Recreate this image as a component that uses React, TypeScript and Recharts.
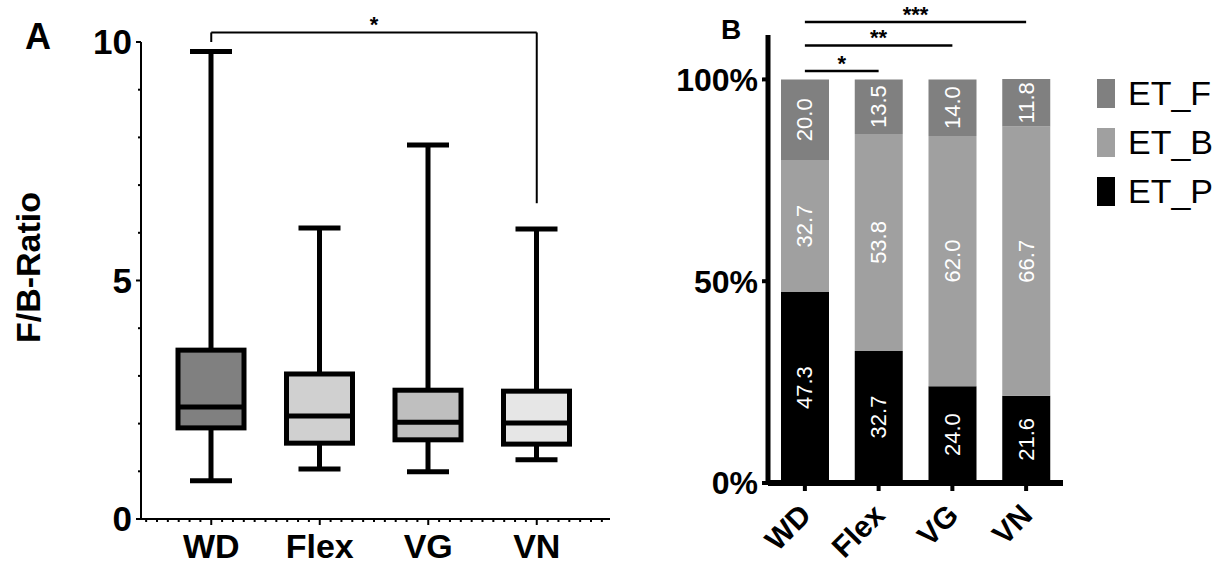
import React from 'react';
import {
  ComposedChart,
  BarChart,
  Bar,
  XAxis,
  YAxis,
  ReferenceLine,
  LabelList,
  Legend,
  Label,
} from 'recharts';

const groups = ['WD', 'Flex', 'VG', 'VN'];

// panel A: F/B ratio, box plot per group
const fbMin = [0.8, 1.05, 0.99, 1.24];
const fbQ1 = [1.91, 1.59, 1.66, 1.57];
const fbMedian = [2.35, 2.16, 2.03, 2.01];
const fbQ3 = [3.54, 3.04, 2.7, 2.68];
const fbMax = [9.8, 6.1, 7.84, 6.08];
const fbTicks = [0, 1, 2, 3, 4, 5, 6, 7, 8, 9, 10];
const fbMajor = [0, 5, 10];

// panel B: enterotype shares (%)
const etP = [47.3, 32.7, 24.0, 21.6];
const etB = [32.7, 53.8, 62.0, 66.7];
const etF = [20.0, 13.5, 14.0, 11.8];
const pctTicks = [0, 50, 100];
const legendOrder = ['ET_F', 'ET_B', 'ET_P'];

const boxFills = ['#808080', '#d0d0d0', '#bfbfbf', '#e6e6e6'];
const etColors = { ET_P: '#000000', ET_B: '#a0a0a0', ET_F: '#808080' };

const boxData = groups.map((g, i) => ({
  group: g,
  min: fbMin[i],
  q1: fbQ1[i],
  median: fbMedian[i],
  q3: fbQ3[i],
  max: fbMax[i],
  fill: boxFills[i],
}));

const etData = groups.map((g, i) => ({
  group: g,
  ET_P: etP[i],
  ET_B: etB[i],
  ET_F: etF[i],
}));

const MINOR_STEP = 10.85;

const BoxShape = (props: any) => {
  const { x, y, width, height, payload } = props;
  if (!payload) return null;
  const top = Math.min(y, y + height);
  const bottom = Math.max(y, y + height);
  const span = payload.max - payload.min;
  const py = (v: number) => bottom - ((v - payload.min) / span) * (bottom - top);
  const cx = x + width / 2;
  const cap = 42;
  return (
    <g stroke="#000" strokeWidth={5}>
      <line x1={cx} x2={cx} y1={py(payload.max)} y2={py(payload.q3)} />
      <line x1={cx} x2={cx} y1={py(payload.q1)} y2={py(payload.min)} />
      <line x1={cx - cap / 2} x2={cx + cap / 2} y1={py(payload.max)} y2={py(payload.max)} />
      <line x1={cx - cap / 2} x2={cx + cap / 2} y1={py(payload.min)} y2={py(payload.min)} />
      <rect
        x={x}
        y={py(payload.q3)}
        width={width}
        height={py(payload.q1) - py(payload.q3)}
        fill={payload.fill}
      />
      <line x1={x} x2={x + width} y1={py(payload.median)} y2={py(payload.median)} />
    </g>
  );
};

const BoxXTick = (props: any) => {
  const { x, y, payload, index } = props;
  let ks = [-5, -4, -3, -2, -1, 1, 2, 3, 4];
  if (index === 0) ks = [-6, ...ks];
  if (index === groups.length - 1) ks = [...ks, 5, 6];
  return (
    <g>
      <line x1={x} x2={x} y1={y} y2={y + 6} stroke="#000" strokeWidth={2} />
      {ks.map((k) => (
        <line
          key={k}
          x1={x + k * MINOR_STEP}
          x2={x + k * MINOR_STEP}
          y1={y}
          y2={y + 3}
          stroke="#000"
          strokeWidth={2}
        />
      ))}
      <text x={x} y={y + 39} textAnchor="middle" fontSize={34} fontWeight="bold" fill="#000">
        {payload.value}
      </text>
    </g>
  );
};

const BoxYTick = (props: any) => {
  const { x, y, payload } = props;
  const major = fbMajor.includes(payload.value);
  return (
    <g>
      <line x1={x - (major ? 5 : 3)} x2={x} y1={y} y2={y} stroke="#000" strokeWidth={2} />
      {major && (
        <text x={x - 9} y={y} dy="0.35em" textAnchor="end" fontSize={35} fontWeight="bold" fill="#000">
          {payload.value}
        </text>
      )}
    </g>
  );
};

const YTitle = (props: any) => {
  const vb = props.viewBox || { x: 81, y: 42, width: 60, height: 477 };
  const tx = vb.x - 41;
  const ty = vb.y + vb.height / 2 - 13;
  return (
    <text
      x={tx}
      y={ty}
      transform={`rotate(-90 ${tx} ${ty})`}
      textAnchor="middle"
      fontSize={34}
      fontWeight="bold"
      fill="#000"
    >
      F/B-Ratio
    </text>
  );
};

const EtXTick = (props: any) => {
  const { x, y, payload } = props;
  const tx = x + 8;
  const ty = y + 24;
  return (
    <text
      x={tx}
      y={ty}
      transform={`rotate(-45 ${tx} ${ty})`}
      textAnchor="end"
      fontSize={30}
      fontWeight="bold"
      fill="#000"
    >
      {payload.value}
    </text>
  );
};

const SegLabel = (props: any) => {
  const { x, y, width, height, value } = props;
  const cx = x + width / 2;
  const cy = y + height / 2;
  return (
    <text
      x={cx}
      y={cy}
      transform={`rotate(-90 ${cx} ${cy})`}
      textAnchor="middle"
      dominantBaseline="central"
      fill="#fff"
      fontSize={22}
    >
      {Number(value).toFixed(1)}
    </text>
  );
};

const EtLegend = (props: any) => {
  const items = [...(props.payload || [])].sort(
    (a: any, b: any) => legendOrder.indexOf(a.value) - legendOrder.indexOf(b.value)
  );
  return (
    <div style={{ width: 140 }}>
      {items.map((item: any) => (
        <div key={item.value} style={{ display: 'flex', alignItems: 'center', height: 49 }}>
          <div style={{ width: 18, height: 29, background: item.color, marginRight: 13 }} />
          <span style={{ fontSize: 34, lineHeight: '29px', color: '#000' }}>{item.value}</span>
        </div>
      ))}
    </div>
  );
};

export default function App() {
  return (
    <div
      style={{
        position: 'absolute',
        left: 0,
        top: 0,
        width: 1217,
        height: 565,
        background: '#fff',
        fontFamily: "'Liberation Sans', Arial, sans-serif",
        overflow: 'hidden',
      }}
    >
      <div style={{ position: 'absolute', left: 0, top: 0 }}>
        <ComposedChart
          width={620}
          height={565}
          data={boxData}
          margin={{ top: 42, right: 10, bottom: 0, left: 81 }}
        >
          <XAxis
            dataKey="group"
            padding={{ left: 16, right: 19 }}
            height={46}
            tickSize={0}
            tickMargin={0}
            tickLine={false}
            interval={0}
            axisLine={{ stroke: '#000', strokeWidth: 2 }}
            tick={(p: any) => <BoxXTick {...p} />}
          />
          <YAxis
            domain={[0, 10]}
            ticks={fbTicks}
            width={60}
            tickSize={0}
            tickMargin={0}
            tickLine={false}
            interval={0}
            axisLine={{ stroke: '#000', strokeWidth: 2 }}
            tick={(p: any) => <BoxYTick {...p} />}
          >
            <Label content={(p: any) => <YTitle {...p} />} />
          </YAxis>
          <Bar
            dataKey={(d: any) => [d.min, d.max]}
            barSize={66}
            isAnimationActive={false}
            shape={(p: any) => <BoxShape {...p} />}
          />
          <ReferenceLine
            segment={[{ x: 'WD', y: 10.2 }, { x: 'VN', y: 10.2 }]}
            stroke="#000"
            strokeWidth={2}
            ifOverflow="visible"
            label={{ value: '*', position: 'top', offset: 0, fontSize: 22, fontWeight: 'bold', fill: '#000' }}
          />
          <ReferenceLine
            segment={[{ x: 'WD', y: 10.2 }, { x: 'WD', y: 10.0 }]}
            stroke="#000"
            strokeWidth={2}
            ifOverflow="visible"
          />
          <ReferenceLine
            segment={[{ x: 'VN', y: 10.2 }, { x: 'VN', y: 6.62 }]}
            stroke="#000"
            strokeWidth={2}
            ifOverflow="visible"
          />
        </ComposedChart>
      </div>

      <div style={{ position: 'absolute', left: 620, top: 0 }}>
        <BarChart
          width={597}
          height={565}
          data={etData}
          margin={{ top: 35, right: 154, bottom: 0, left: 48 }}
        >
          <XAxis
            dataKey="group"
            height={82}
            tickSize={8}
            tickMargin={2}
            interval={0}
            axisLine={{ stroke: '#000', strokeWidth: 6 }}
            tickLine={{ stroke: '#000', strokeWidth: 4 }}
            tick={(p: any) => <EtXTick {...p} />}
          />
          <YAxis
            domain={[0, 111]}
            ticks={pctTicks}
            width={100}
            tickSize={6}
            tickMargin={4}
            interval={0}
            tickFormatter={(v: number) => `${v}%`}
            axisLine={{ stroke: '#000', strokeWidth: 5 }}
            tickLine={{ stroke: '#000', strokeWidth: 4 }}
            tick={{ fill: '#000', fontSize: 32, fontWeight: 'bold' }}
          />
          <Legend
            content={(p: any) => <EtLegend {...p} />}
            wrapperStyle={{ position: 'absolute', left: 477, top: 69, width: 0, height: 0, overflow: 'visible' }}
          />
          <Bar dataKey="ET_P" name="ET_P" stackId="et" fill={etColors.ET_P} barSize={48} isAnimationActive={false}>
            <LabelList dataKey="ET_P" content={(p: any) => <SegLabel {...p} />} />
          </Bar>
          <Bar dataKey="ET_B" name="ET_B" stackId="et" fill={etColors.ET_B} barSize={48} isAnimationActive={false}>
            <LabelList dataKey="ET_B" content={(p: any) => <SegLabel {...p} />} />
          </Bar>
          <Bar dataKey="ET_F" name="ET_F" stackId="et" fill={etColors.ET_F} barSize={48} isAnimationActive={false}>
            <LabelList dataKey="ET_F" content={(p: any) => <SegLabel {...p} />} />
          </Bar>
          <ReferenceLine
            segment={[{ x: 'WD', y: 102.1 }, { x: 'Flex', y: 102.1 }]}
            stroke="#000"
            strokeWidth={2.5}
            ifOverflow="visible"
            label={{ value: '*', position: 'top', offset: 0, fontSize: 22, fontWeight: 'bold', fill: '#000' }}
          />
          <ReferenceLine
            segment={[{ x: 'WD', y: 108.4 }, { x: 'VG', y: 108.4 }]}
            stroke="#000"
            strokeWidth={2.5}
            ifOverflow="visible"
            label={{ value: '**', position: 'top', offset: 0, fontSize: 22, fontWeight: 'bold', fill: '#000' }}
          />
          <ReferenceLine
            segment={[{ x: 'WD', y: 114.2 }, { x: 'VN', y: 114.2 }]}
            stroke="#000"
            strokeWidth={2.5}
            ifOverflow="visible"
            label={{ value: '***', position: 'top', offset: 0, fontSize: 22, fontWeight: 'bold', fill: '#000' }}
          />
        </BarChart>
      </div>

      <div
        style={{
          position: 'absolute',
          left: 25,
          top: 19,
          fontSize: 36,
          lineHeight: '36px',
          fontWeight: 'bold',
          color: '#000',
        }}
      >
        A
      </div>
      <div
        style={{
          position: 'absolute',
          left: 721,
          top: 16,
          fontSize: 28,
          lineHeight: '28px',
          fontWeight: 'bold',
          color: '#000',
        }}
      >
        B
      </div>
    </div>
  );
}
